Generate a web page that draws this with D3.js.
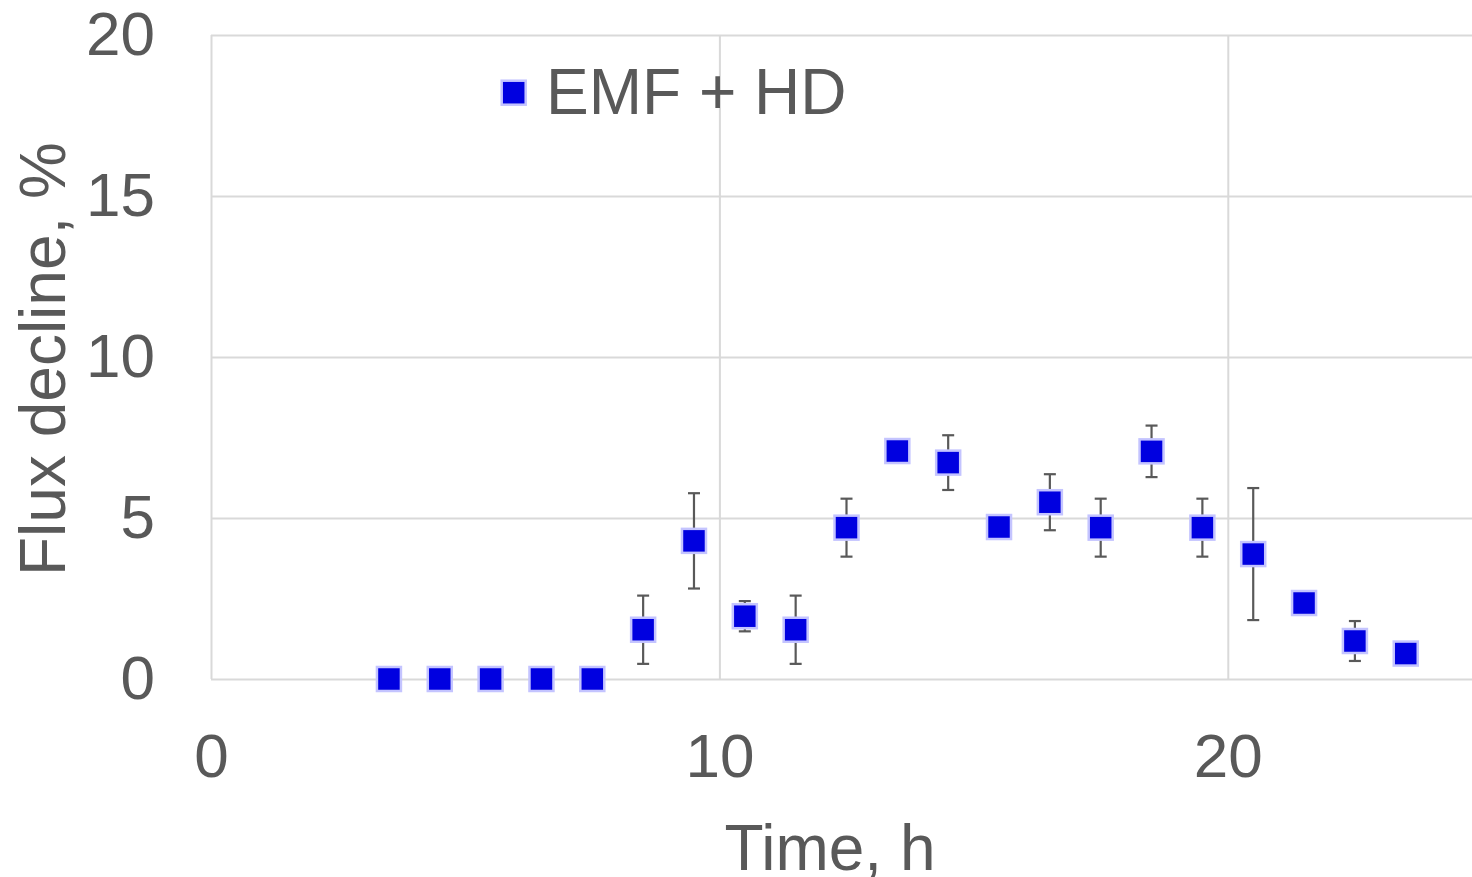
<!DOCTYPE html>
<html>
<head>
<meta charset="utf-8">
<script src="https://cdn.jsdelivr.net/npm/d3@7"></script>
<style>
  body { margin: 0; background: #fff; }
  text { font-family: "Liberation Sans", Arial, sans-serif; fill: #595959; }
</style>
</head>
<body>
<div id="chart"></div>
<script>
// dados (tempo em h, queda de fluxo em %)
const time = [3.5, 4.5, 5.5, 6.5, 7.5, 8.5, 9.5, 10.5, 11.5, 12.5, 13.5, 14.5, 15.5, 16.5, 17.5, 18.5, 19.5, 20.5, 21.5, 22.5, 23.5];
const fluxDecline = [0, 0, 0, 0, 0, 1.53, 4.29, 1.95, 1.53, 4.70, 7.08, 6.72, 4.72, 5.49, 4.70, 7.07, 4.70, 3.88, 2.36, 1.18, 0.79];
const errorBar = [0, 0, 0, 0, 0, 1.06, 1.48, 0.47, 1.06, 0.90, 0, 0.85, 0, 0.87, 0.90, 0.80, 0.90, 2.05, 0, 0.62, 0];
const xTicks = [0, 10, 20];
const yTicks = [0, 5, 10, 15, 20];
const seriesName = "EMF + HD";

const data = time.map((t, i) => ({t: t, v: fluxDecline[i], e: errorBar[i]}));

// dimensões
const W = 1472, H = 877;
const margin = {top: 35, left: 211, bottom: 198};
const plotH = H - margin.top - margin.bottom;

const svg = d3.select("#chart")
  .append("svg")
    .attr("width", W)
    .attr("height", H);

const g = svg.append("g")
  .attr("transform", `translate(${margin.left},${margin.top})`);

// escalas (o eixo vai até 25, cortado na borda direita)
const x = d3.scaleLinear().domain([0, 25]).range([0, 1271]);
const y = d3.scaleLinear().domain([0, 20]).range([plotH, 0]);

// eixo y + linhas de grade
const yAxis = g.append("g")
  .call(d3.axisLeft(y).tickValues(yTicks).tickSize(-1271).tickPadding(56));
yAxis.select(".domain").remove();
yAxis.selectAll("line").attr("stroke", "#d9d9d9").attr("stroke-width", 2);
yAxis.selectAll("text").attr("font-size", 62).attr("fill", "#595959");

// eixo x + linhas de grade
const xAxis = g.append("g")
  .attr("transform", `translate(0,${plotH})`)
  .call(d3.axisBottom(x).tickValues(xTicks).tickSize(-plotH).tickPadding(54));
xAxis.select(".domain").remove();
xAxis.selectAll("line").attr("stroke", "#d9d9d9").attr("stroke-width", 2);
xAxis.selectAll("text").attr("font-size", 62).attr("fill", "#595959");

// barras de erro
const eb = g.append("g").attr("stroke", "#595959").attr("stroke-width", 2.2);
const withErr = data.filter(d => d.e > 0);
eb.selectAll(".stem")
  .data(withErr)
  .join("line")
    .attr("x1", d => x(d.t)).attr("x2", d => x(d.t))
    .attr("y1", d => y(d.v + d.e)).attr("y2", d => y(d.v - d.e));
eb.selectAll(".capTop")
  .data(withErr)
  .join("line")
    .attr("x1", d => x(d.t) - 6).attr("x2", d => x(d.t) + 6)
    .attr("y1", d => y(d.v + d.e)).attr("y2", d => y(d.v + d.e));
eb.selectAll(".capBot")
  .data(withErr)
  .join("line")
    .attr("x1", d => x(d.t) - 6).attr("x2", d => x(d.t) + 6)
    .attr("y1", d => y(d.v - d.e)).attr("y2", d => y(d.v - d.e));

// marcadores
const sz = 24;
g.selectAll(".pt")
  .data(data)
  .join("rect")
    .attr("class", "pt")
    .attr("x", d => x(d.t) - sz / 2)
    .attr("y", d => y(d.v) - sz / 2)
    .attr("width", sz)
    .attr("height", sz)
    .attr("fill", "#0000e0")
    .attr("stroke", "#c4c4ff")
    .attr("stroke-width", 2.5);

// legenda
svg.append("rect")
  .attr("x", 513.7 - sz / 2)
  .attr("y", 92.7 - sz / 2)
  .attr("width", sz)
  .attr("height", sz)
  .attr("fill", "#0000e0")
  .attr("stroke", "#c4c4ff")
  .attr("stroke-width", 2.5);
svg.append("text")
  .attr("x", 546)
  .attr("y", 114)
  .attr("font-size", 64)
  .text(seriesName);

// títulos dos eixos
svg.append("text")
  .attr("text-anchor", "middle")
  .attr("x", 830)
  .attr("y", 870)
  .attr("font-size", 64)
  .text("Time, h");

svg.append("text")
  .attr("text-anchor", "middle")
  .attr("transform", "translate(65,359) rotate(-90)")
  .attr("font-size", 64)
  .text("Flux decline, %");
</script>
</body>
</html>
